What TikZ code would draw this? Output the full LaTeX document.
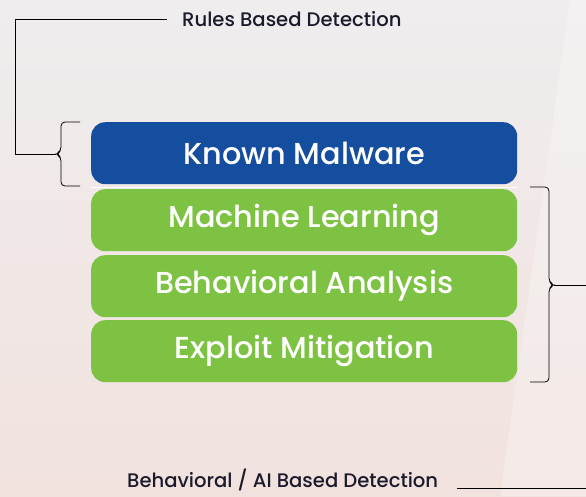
\documentclass[tikz,border=0pt]{standalone}
\usepackage{fontspec}
\setmainfont{Poppins Medium}
\definecolor{bgtop}{HTML}{EFEDEE}
\definecolor{bgbot}{HTML}{F1E2DE}
\definecolor{kblue}{HTML}{154E9E}
\definecolor{kgreen}{HTML}{7DC242}
\definecolor{ink}{HTML}{1B1B2B}
\tikzset{
  layer/.style={rounded corners=14pt, minimum width=426pt, minimum height=62pt,
     inner sep=0pt, text=white, font=\fontsize{30.3}{33}\selectfont, anchor=north west},
  bluebox/.style={layer, fill=kblue},
  greenbox/.style={layer, fill=kgreen},
  label/.style={text=ink, font=\fontsize{19.6}{22}\selectfont, inner sep=0pt},
  wire/.style={draw=black, line width=0.9pt},
  bracket/.style={draw=black, line width=0.8pt, rounded corners=4pt}
}
\begin{document}
\begin{tikzpicture}[x=1pt,y=-1pt]
\useasboundingbox (0,0) rectangle (586,496);
\shade[top color=bgtop, bottom color=bgbot] (0,0) rectangle (586,496);
\fill[white, opacity=0.25] (586,0) -- (586,496) -- (500,496) -- (570,0) -- cycle;
\node[bluebox] (km) at (91,122) {Known Malware};
\node[greenbox] (ml) at (91,189) {Machine Learning};
\node[greenbox] (ba) at (91,255) {Behavioral Analysis};
\node[greenbox] (em) at (91,320) {Exploit Mitigation};
\draw[white, line width=0.8pt] (91,187) -- (517,187);
% left bracket
\draw[bracket] (80,122) -- (61,122) -- (61,151) -- (56,154) -- (61,157) -- (61,186) -- (80,186);
\coordinate (ltip) at (56,154);
\node[label, anchor=west] (rules) at (182,19) {Rules Based Detection};
\coordinate (lc1) at (15,154);
\coordinate (lc2) at (15,19);
\coordinate (lend) at (167,19);
\draw[wire] (ltip) -- (lc1) -- (lc2) -- (lend);
% right bracket
\draw[bracket] (530,187) -- (549,187) -- (549,282) -- (554,285) -- (549,288) -- (549,382) -- (530,382);
\coordinate (rtip) at (554,285);
\coordinate (redge) at (586,285);
\draw[wire] (rtip) -- (redge);
\node[label, anchor=west] (ai) at (127,480) {Behavioral / AI Based Detection};
\coordinate (bstart) at (457,488);
\coordinate (bend) at (586,488);
\draw[wire] (bstart) -- (bend);
\end{tikzpicture}
\end{document}
